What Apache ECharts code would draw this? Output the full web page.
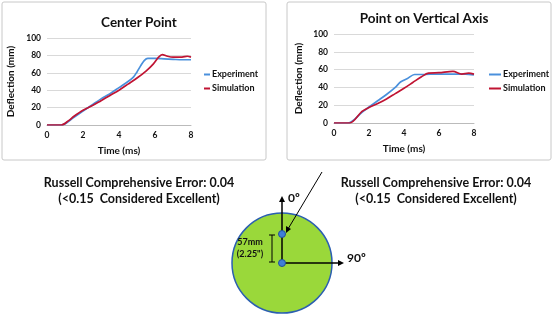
<!DOCTYPE html>
<html>
<head>
<meta charset="utf-8">
<script src="https://cdn.jsdelivr.net/npm/echarts@6/dist/echarts.min.js"></script>
<style>
  html, body { margin: 0; padding: 0; background: #fff; }
  #main { width: 553px; height: 316px; }
</style>
</head>
<body>
<div id="main"></div>
<script>
// center point: [time ms, deflection mm]
var centerExp = [[0, 0], [0.8, 0], [1.5, 9], [2, 16], [2.5, 23], [3, 30], [3.5, 36], [4, 43], [4.5, 50], [4.8, 55], [5, 61], [5.2, 68], [5.4, 74], [5.6, 76.5], [6, 76.5], [6.5, 76], [7, 75.5], [7.5, 75], [8, 75]];
var centerSim = [[0, 0], [0.8, 0], [1.2, 5], [1.5, 10], [2, 17], [2.5, 22], [3, 28], [3.5, 34], [4, 40], [4.5, 47], [5, 54], [5.5, 62], [5.9, 70], [6.2, 78], [6.4, 81], [6.7, 79], [7, 78], [7.5, 78], [7.8, 79], [8, 78]];
// point on vertical axis
var vertExp = [[0, 0], [0.8, 0], [1.6, 12], [2, 18], [2.5, 25], [3, 32], [3.5, 40], [3.8, 46], [4.2, 50], [4.6, 54.5], [5, 54.5], [6, 55], [7, 55], [7.5, 55], [8, 54]];
var vertSim = [[0, 0], [0.9, 0], [1.6, 13], [2, 17.5], [2.5, 22], [3, 27], [3.5, 33], [4, 39], [4.5, 45.5], [5, 52], [5.4, 56], [6, 56.5], [6.8, 58], [7.3, 55], [7.7, 56], [8, 55]];

var xTicks = [0, 2, 4, 6, 8];
var yTicks = [0, 20, 40, 60, 80, 100];

var blue = '#4a90dc';
var red = '#c01433';
var ff = 'Lato, "Open Sans", sans-serif';

function xAx(i) {
    return {
        gridIndex: i, type: 'value', min: xTicks[0], max: xTicks[xTicks.length - 1], interval: 2,
        name: 'Time (ms)', nameLocation: 'middle', nameGap: 21,
        nameTextStyle: { fontFamily: ff, fontWeight: 'bold', fontSize: 10, color: '#111' },
        axisLine: { lineStyle: { color: '#bbb' } },
        axisTick: { show: false },
        axisLabel: { fontFamily: ff, fontWeight: 'bold', fontSize: 8.5, color: '#111', margin: 6 },
        splitLine: { show: false }
    };
}
function yAx(i, gap) {
    return {
        gridIndex: i, type: 'value', min: yTicks[0], max: yTicks[yTicks.length - 1], interval: 20,
        name: 'Deflection (mm)', nameLocation: 'middle', nameGap: gap,
        nameTextStyle: { fontFamily: ff, fontWeight: 'bold', fontSize: 10, color: '#111' },
        axisLine: { show: false },
        axisTick: { show: false },
        axisLabel: { fontFamily: ff, fontWeight: 'bold', fontSize: 8.5, color: '#111', margin: 6 },
        splitLine: { lineStyle: { color: '#d9d9d9' } }
    };
}
function line(name, data, color, i) {
    return {
        name: name, type: 'line', xAxisIndex: i, yAxisIndex: i, data: data,
        symbol: 'none', smooth: 0.3, lineStyle: { color: color, width: 1.7 }, itemStyle: { color: color }
    };
}
var txt = { fontFamily: ff, fontWeight: 'bold', fill: '#111' };

var myChart = echarts.init(document.getElementById('main'));
var option = {
    animation: false,
    title: [
        { text: 'Center Point', left: 134, top: 11, textAlign: 'center', textStyle: { fontFamily: ff, fontSize: 13.5, fontWeight: 'bold', color: '#111' } },
        { text: 'Point on Vertical Axis', left: 419, top: 7, textAlign: 'center', textStyle: { fontFamily: ff, fontSize: 13.5, fontWeight: 'bold', color: '#111' } }
    ],
    legend: [
        { left: 199, top: 65, orient: 'vertical', itemGap: 5, itemWidth: 6, itemHeight: 2, icon: 'rect', data: ['Experiment', 'Simulation'],
          textStyle: { fontFamily: ff, fontWeight: 'bold', fontSize: 9, color: '#111', padding: [0, 0, 0, -3] } },
        { left: 484, top: 65, orient: 'vertical', itemGap: 5, itemWidth: 12, itemHeight: 2, icon: 'rect', data: ['Experiment', 'Simulation'],
          textStyle: { fontFamily: ff, fontWeight: 'bold', fontSize: 9, color: '#111', padding: [0, 0, 0, -3] } }
    ],
    grid: [
        { left: 47, right: 362, top: 38, bottom: 191 },
        { left: 334, right: 79, top: 34, bottom: 193 }
    ],
    xAxis: [xAx(0), xAx(1)],
    yAxis: [yAx(0, 31), yAx(1, 30)],
    series: [
        line('Experiment', centerExp, blue, 0),
        line('Simulation', centerSim, red, 0),
        line('Experiment', vertExp, blue, 1),
        line('Simulation', vertSim, red, 1)
    ],
    graphic: [
        { type: 'rect', shape: { x: 2, y: 2, width: 264, height: 158, r: 2 }, style: { fill: null, stroke: '#c8c8c8', lineWidth: 1 }, z: -1 },
        { type: 'rect', shape: { x: 287, y: 2, width: 264, height: 158, r: 2 }, style: { fill: null, stroke: '#c8c8c8', lineWidth: 1 }, z: -1 },
        { type: 'text', x: 139, y: 183, style: Object.assign({ text: 'Russell Comprehensive Error: 0.04', fontSize: 12.5, align: 'center', verticalAlign: 'middle' }, txt) },
        { type: 'text', x: 139, y: 199, style: Object.assign({ text: '(<0.15  Considered Excellent)', fontSize: 12.5, align: 'center', verticalAlign: 'middle' }, txt) },
        { type: 'text', x: 436, y: 183, style: Object.assign({ text: 'Russell Comprehensive Error: 0.04', fontSize: 12.5, align: 'center', verticalAlign: 'middle' }, txt) },
        { type: 'text', x: 436, y: 199, style: Object.assign({ text: '(<0.15  Considered Excellent)', fontSize: 12.5, align: 'center', verticalAlign: 'middle' }, txt) },
        // disc diagram
        { type: 'circle', shape: { cx: 282, cy: 263, r: 50 }, style: { fill: '#9ad83a', stroke: '#2b5fb0', lineWidth: 1.5 } },
        { type: 'line', shape: { x1: 282, y1: 263, x2: 282, y2: 200 }, style: { stroke: '#000', lineWidth: 1.5 } },
        { type: 'polygon', shape: { points: [[282, 196], [279, 202], [285, 202]] }, style: { fill: '#000' } },
        { type: 'line', shape: { x1: 282, y1: 263, x2: 340, y2: 263 }, style: { stroke: '#000', lineWidth: 1.5 } },
        { type: 'polygon', shape: { points: [[344, 263], [338, 260], [338, 266]] }, style: { fill: '#000' } },
        { type: 'line', shape: { x1: 322, y1: 172, x2: 288, y2: 229 }, style: { stroke: '#000', lineWidth: 1 } },
        { type: 'polygon', shape: { points: [[286, 233], [286, 226], [291, 229]] }, style: { fill: '#000' } },
        { type: 'line', shape: { x1: 272, y1: 235, x2: 272, y2: 262 }, style: { stroke: '#000', lineWidth: 1 } },
        { type: 'line', shape: { x1: 269, y1: 235, x2: 275, y2: 235 }, style: { stroke: '#000', lineWidth: 1 } },
        { type: 'line', shape: { x1: 269, y1: 262, x2: 275, y2: 262 }, style: { stroke: '#000', lineWidth: 1 } },
        { type: 'circle', shape: { cx: 282, cy: 234, r: 3.5 }, style: { fill: '#3f7fd8', stroke: '#1f4f9a', lineWidth: 1 } },
        { type: 'circle', shape: { cx: 282, cy: 263, r: 3.5 }, style: { fill: '#3f7fd8', stroke: '#1f4f9a', lineWidth: 1 } },
        { type: 'text', x: 250, y: 242, style: Object.assign({ text: '57mm', fontSize: 9, align: 'center', verticalAlign: 'middle' }, txt) },
        { type: 'text', x: 250, y: 254, style: Object.assign({ text: '(2.25")', fontSize: 9, align: 'center', verticalAlign: 'middle' }, txt) },
        { type: 'text', x: 288, y: 198, style: Object.assign({ text: '0º', fontSize: 12, verticalAlign: 'middle' }, txt) },
        { type: 'text', x: 347, y: 258, style: Object.assign({ text: '90º', fontSize: 12, verticalAlign: 'middle' }, txt) }
    ]
};
myChart.setOption(option);
</script>
</body>
</html>
